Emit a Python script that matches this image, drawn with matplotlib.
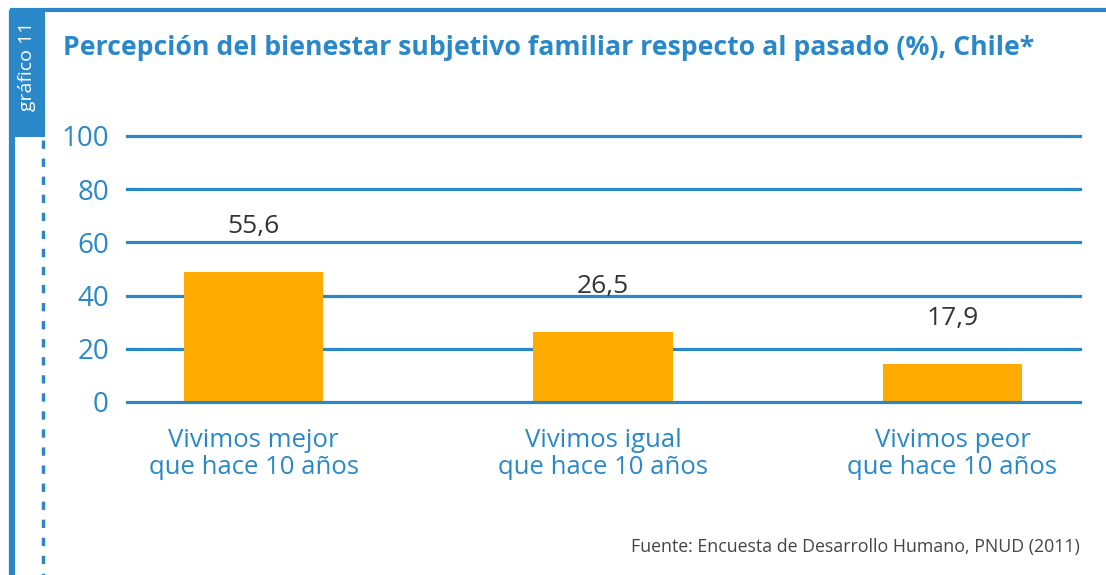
import matplotlib
matplotlib.use("Agg")
import matplotlib.pyplot as plt
from matplotlib.patches import Rectangle

plt.rcParams['font.family'] = ['Open Sans', 'DejaVu Sans']

# data
categories = ["Vivimos mejor\nque hace 10 años",
              "Vivimos igual\nque hace 10 años",
              "Vivimos peor\nque hace 10 años"]
bar_heights = [48.8, 26.3, 14.3]       # bars as drawn
value_labels = ["55,6", "26,5", "17,9"]  # printed numbers
yticks = [0, 20, 40, 60, 80, 100]

blue = "#2B88C8"
orange = "#FFAB00"
dark = "#333333"

fig = plt.figure(figsize=(11.06, 5.75), dpi=100)

# frame decoration in pixel coordinates
deco = fig.add_axes([0, 0, 1, 1])
deco.set_xlim(0, 1106)
deco.set_ylim(575, 0)
deco.axis("off")
deco.plot([10, 1106], [10, 10], color=blue, lw=3, solid_capstyle="butt")
deco.plot([12, 12], [10, 575], color=blue, lw=4.5, solid_capstyle="butt")
deco.add_patch(Rectangle((10, 9), 35, 128, color=blue, lw=0))
deco.plot([42.5, 42.5], [140, 575], color=blue, lw=2.5, ls=(0, (2.4, 2.8)))
deco.text(27, 66, "gráfico 11", color="white", fontsize=14, rotation=90,
          ha="center", va="center")
deco.text(63, 48, "Percepción del bienestar subjetivo familiar respecto al pasado (%), Chile*",
          color=blue, fontsize=19.2, fontweight="bold", ha="left", va="center")
deco.text(1080, 547, "Fuente: Encuesta de Desarrollo Humano, PNUD (2011)",
          color="#444444", fontsize=12.8, ha="right", va="center")

ax = fig.add_axes([127 / 1106, 1 - 402 / 575, 953 / 1106, 266 / 575])
x = range(len(categories))
bars = ax.bar(x, bar_heights, width=0.4, color=orange, zorder=3)
for yt in yticks:
    ax.axhline(yt, color=blue, lw=2.3, zorder=4 if yt == 0 else 1, clip_on=False)

for b, lab in zip(bars, value_labels):
    ax.annotate(lab, (b.get_x() + b.get_width() / 2, b.get_height()),
                xytext=(0, 33), textcoords="offset points",
                ha="center", va="center", fontsize=19, color=dark)

ax.set_xlim(-0.362, 2.365)
ax.set_ylim(0, 100)
ax.set_yticks(yticks)
ax.set_xticks(list(x))
ax.set_xticklabels(categories, fontsize=18.5, color=blue, linespacing=1.12)
ax.tick_params(axis="y", labelsize=20, labelcolor=blue, length=0, pad=13)
ax.tick_params(axis="x", length=0, pad=18.5)
for s in ax.spines.values():
    s.set_visible(False)

fig.savefig("out.png", dpi=100)
